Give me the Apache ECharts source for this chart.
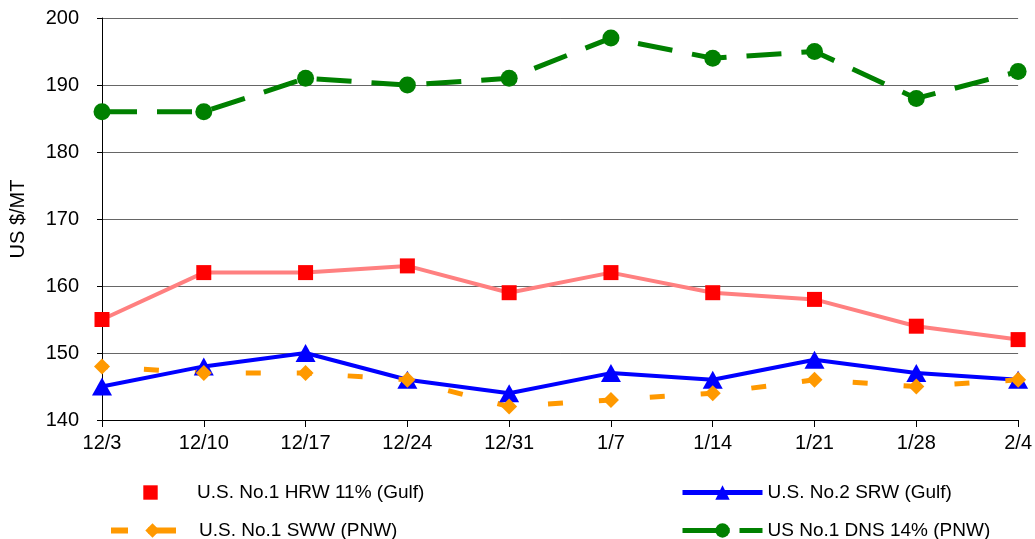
<!DOCTYPE html>
<html>
<head>
<meta charset="utf-8">
<script src="https://cdn.jsdelivr.net/npm/echarts@6/dist/echarts.min.js"></script>
<style>
  html, body { margin: 0; padding: 0; background: #fff; }
  #chart { width: 1035px; height: 539px; }
</style>
</head>
<body>
<div id="chart"></div>
<script>
// categories (weeks)
const weeks = ['12/3', '12/10', '12/17', '12/24', '12/31', '1/7', '1/14', '1/21', '1/28', '2/4'];

// prices, US $/MT
const hrwGulf = [155, 162, 162, 163, 159, 162, 159, 158, 154, 152];
const srwGulf = [145, 148, 150, 146, 144, 147, 146, 149, 147, 146];
const swwPnw  = [148, 147, 147, 146, 142, 143, 144, 146, 145, 146];
const dnsPnw  = [186, 186, 191, 190, 191, 197, 194, 195, 188, 192];

const yTicks = { min: 140, max: 200, interval: 10 };

const names = {
  hrw: 'U.S. No.1 HRW 11% (Gulf)',
  srw: 'U.S. No.2 SRW (Gulf)',
  sww: 'U.S. No.1 SWW (PNW)',
  dns: 'US No.1 DNS 14% (PNW)'
};

const font = "'Liberation Sans', Arial, sans-serif";

const chart = echarts.init(document.getElementById('chart'));

// one legend box per entry, placed like the original 2x2 layout
function legendAt(item, left, top, width) {
  return {
    data: [item],
    left: left,
    top: top,
    padding: 0,
    itemWidth: width,
    itemHeight: 18,
    itemGap: 0,
    selectedMode: false,
    textStyle: { fontFamily: font, fontSize: 19, color: '#000' }
  };
}

chart.setOption({
  animation: false,
  grid: { left: 101, right: 16, top: 18, bottom: 119 },
  xAxis: {
    type: 'category',
    data: weeks,
    boundaryGap: false,
    axisLine: { lineStyle: { color: '#000', width: 1 } },
    axisTick: { length: 7, lineStyle: { color: '#000' } },
    axisLabel: { color: '#000', fontFamily: font, fontSize: 20, margin: 13 }
  },
  yAxis: {
    type: 'value',
    min: yTicks.min,
    max: yTicks.max,
    interval: yTicks.interval,
    name: 'US $/MT',
    nameLocation: 'middle',
    nameGap: 74,
    nameTextStyle: { color: '#000', fontFamily: font, fontSize: 20 },
    axisLine: { show: true, lineStyle: { color: '#000', width: 1 } },
    axisTick: { show: true, length: 5, lineStyle: { color: '#000' } },
    axisLabel: { color: '#000', fontFamily: font, fontSize: 20, margin: 23 },
    splitLine: { lineStyle: { color: '#666', width: 1 } }
  },
  legend: [
    legendAt({ name: names.hrw, lineStyle: { opacity: 0 } }, 108, 483, 83),
    legendAt({ name: names.srw, lineStyle: { width: 5, type: 'solid' } }, 680, 483, 80),
    legendAt({ name: names.sww, lineStyle: { width: 6, type: [17, 20, 28, 100], dashOffset: 0 } }, 108, 521, 83),
    legendAt({ name: names.dns, lineStyle: { width: 5, type: [47, 10], dashOffset: 0 } }, 680, 521, 80)
  ],
  series: [
    {
      name: names.hrw,
      type: 'line',
      data: hrwGulf,
      symbol: 'rect',
      symbolSize: 15,
      lineStyle: { color: '#FF8080', width: 4 },
      itemStyle: { color: '#FF0000' }
    },
    {
      name: names.srw,
      type: 'line',
      data: srwGulf,
      symbol: 'triangle',
      symbolSize: [20, 18],
      lineStyle: { color: '#0000FF', width: 4 },
      itemStyle: { color: '#0000FF' }
    },
    {
      name: names.sww,
      type: 'line',
      data: swwPnw,
      symbol: 'diamond',
      symbolSize: 16,
      lineStyle: { color: '#FF9900', width: 5, type: [15, 36], dashOffset: 9 },
      itemStyle: { color: '#FF9900' }
    },
    {
      name: names.dns,
      type: 'line',
      data: dnsPnw,
      symbol: 'circle',
      symbolSize: 17,
      lineStyle: { color: '#008000', width: 5, type: [35, 20], dashOffset: 0 },
      itemStyle: { color: '#008000' }
    }
  ]
});
</script>
</body>
</html>
